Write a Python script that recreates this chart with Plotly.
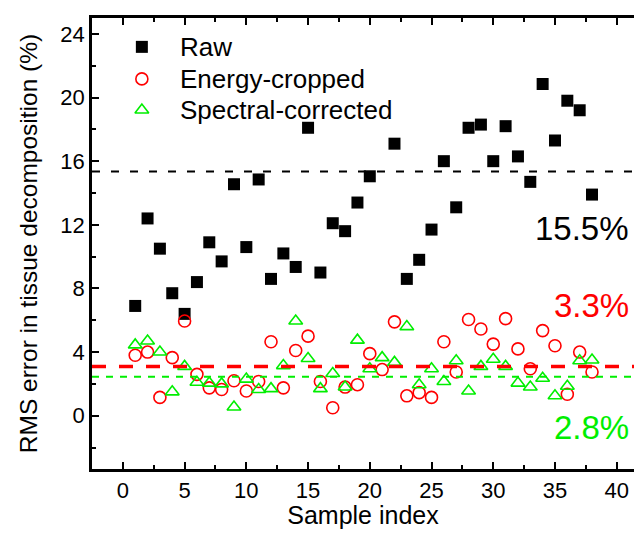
import plotly.graph_objects as go

# sample index 1..38
sample = list(range(1, 39))

raw = [6.9, 12.4, 10.5, 7.7, 6.4, 8.4, 10.9, 9.7, 14.55, 10.6,
       14.85, 8.6, 10.2, 9.35, 18.1, 9.0, 12.1, 11.6, 13.4, 15.05,
       None, 17.1, 8.6, 9.8, 11.7, 16.0, 13.1, 18.1, 18.3, 16.0,
       18.2, 16.3, 14.7, 20.85, 17.3, 19.8, 19.2, 13.9]

energy = [3.8, 4.0, 1.15, 3.65, 5.95, 2.6, 1.75, 1.65, 2.2, 1.55,
          2.15, 4.65, 1.75, 4.1, 5.0, 2.15, 0.5, 1.8, 1.95, 3.9,
          2.9, 5.9, 1.25, 1.45, 1.15, 4.65, 2.75, 6.05, 5.45, 4.5,
          6.1, 4.2, 2.95, 5.35, 4.4, 1.35, 4.0, 2.75]

spectral = [4.45, 4.7, 4.0, 1.5, 3.1, 2.1, 2.05, 2.0, 0.55, 2.3,
            1.65, 1.7, 3.15, 5.95, 3.6, 1.7, 2.65, 1.8, 4.75, 2.95,
            3.65, 3.35, 5.6, 1.95, 2.95, 2.15, 3.45, 1.55, 3.1, 3.55,
            3.1, 2.05, 1.8, 2.35, 1.25, 1.85, 3.45, 3.5]

series_names = ['Raw', 'Energy-cropped', 'Spectral-corrected']

# horizontal reference levels and their labels
levels = [15.35, 3.1, 2.45]
level_labels = ['15.5%', '3.3%', '2.8%']
label_y = [11.78, 6.95, -0.77]

FONT = 'Liberation Sans, Arial, sans-serif'
RED = '#ff0000'
GREEN = '#00ee00'

markers = [dict(symbol='square', size=12, color='black'),
           dict(symbol='circle-open', size=12, color=RED, line=dict(width=1.6, color=RED)),
           dict(symbol='triangle-up-open', size=12, color=GREEN, line=dict(width=1.6, color=GREEN))]

fig = go.Figure()
for name, vals, mk in zip(series_names, [raw, energy, spectral], markers):
    fig.add_trace(go.Scatter(x=sample, y=vals, mode='markers', name=name,
                             marker=mk, showlegend=False))

# legend drawn by hand (tighter rows than plotly's legend allows)
leg_marker_x = 0.092
leg_text_x = 0.159
leg_rows = [0.936, 0.865, 0.796]
for name, mk, ry in zip(series_names, markers, leg_rows):
    fig.add_trace(go.Scatter(x=[leg_marker_x], y=[ry], xaxis='x2', yaxis='y2', mode='markers',
                             marker=mk, showlegend=False, hoverinfo='skip'))
    fig.add_annotation(x=leg_text_x, y=ry, xref='paper', yref='paper', text=name, showarrow=False,
                       xanchor='left', yanchor='middle', font=dict(size=26, family=FONT, color='black'))

line_styles = [dict(color='black', width=2, dash='8px,11px'),
               dict(color=RED, width=3.5, dash='14px,13px'),
               dict(color=GREEN, width=2, dash='7px,7px')]
label_colors = ['black', RED, GREEN]
for lv, st in zip(levels, line_styles):
    fig.add_shape(type='line', xref='paper', x0=0, x1=1, yref='y', y0=lv, y1=lv, line=st)
for txt, ly, c in zip(level_labels, label_y, label_colors):
    fig.add_annotation(x=0.994, xref='paper', y=ly, yref='y', text=txt, showarrow=False,
                       xanchor='right', yanchor='middle', font=dict(size=33, color=c, family=FONT))

fig.update_layout(
    width=626, height=521,
    margin=dict(l=84, r=0, t=10, b=60),
    paper_bgcolor='white', plot_bgcolor='white',
    font=dict(family=FONT, size=22, color='black'),
    showlegend=False,
    xaxis=dict(range=[-2.5, 41.4], tickvals=[0, 5, 10, 15, 20, 25, 30, 35, 40],
               ticks='inside', ticklen=7, tickwidth=2, tickcolor='black',
               minor=dict(dtick=2.5, tick0=0, ticks='inside', ticklen=4, tickwidth=2, tickcolor='black'),
               showline=True, linewidth=2.5, linecolor='black', mirror='ticks',
               showgrid=False, zeroline=False, automargin=False,
               title=dict(text='Sample index', standoff=7, font=dict(size=25))),
    yaxis=dict(range=[-3.35, 25], tickvals=[0, 4, 8, 12, 16, 20, 24],
               ticks='inside', ticklen=7, tickwidth=2, tickcolor='black',
               minor=dict(dtick=2, tick0=0, ticks='inside', ticklen=4, tickwidth=2, tickcolor='black'),
               showline=True, linewidth=2.5, linecolor='black', mirror=False,
               showgrid=False, zeroline=False, automargin=False,
               title=dict(text='RMS error in tissue decomposition (%)', standoff=16, font=dict(size=24.5))),
    xaxis2=dict(overlaying='x', range=[0, 1], visible=False, showline=False,
                showgrid=False, zeroline=False),
    yaxis2=dict(overlaying='y', range=[0, 1], visible=False, showline=False, side='left',
                showgrid=False, zeroline=False),
)

fig.write_html('out.html')
